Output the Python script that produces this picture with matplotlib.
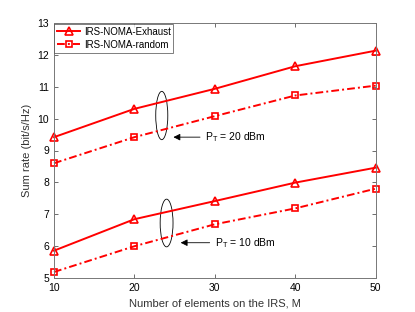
import numpy as np
import matplotlib
matplotlib.use("Agg")
import matplotlib.pyplot as plt
from matplotlib.patches import Ellipse

plt.rcParams['font.family'] = ['Liberation Sans', 'DejaVu Sans']

M = [10, 20, 30, 40, 50]
exh_20 = [9.42, 10.31, 10.94, 11.65, 12.14]
rnd_20 = [8.60, 9.42, 10.08, 10.73, 11.04]
exh_10 = [5.85, 6.84, 7.41, 7.99, 8.46]
rnd_10 = [5.18, 5.99, 6.68, 7.18, 7.80]

fig = plt.figure(figsize=(4.15, 3.12), dpi=100)
ax = fig.add_axes([54/415, 1 - 277.7/312, (375.7 - 54)/415, (277.7 - 23.3)/312])

dd = (4, 1.6, 1, 1.6)
ax.plot(M, exh_20, '-', color='red', lw=1.4, marker='^', ms=6, mfc='none', mew=1.2,
        label='IRS-NOMA-Exhaust', clip_on=False)
ax.plot(M, rnd_20, '-.', color='red', lw=1.4, marker='s', ms=4.5, mfc='none', mew=1.2,
        dashes=dd, label='IRS-NOMA-random', clip_on=False)
ax.plot(M, exh_10, '-', color='red', lw=1.4, marker='^', ms=6, mfc='none', mew=1.2,
        clip_on=False)
ax.plot(M, rnd_10, '-.', color='red', lw=1.4, marker='s', ms=4.5, mfc='none', mew=1.2,
        dashes=dd, clip_on=False)

# ellipses and arrows marking the power groups
ax.add_patch(Ellipse((23.4, 10.1), 1.5, 1.52, fill=False, ec='k', lw=0.6))
ax.add_patch(Ellipse((24.0, 6.72), 1.6, 1.5, fill=False, ec='k', lw=0.6))
ax.annotate('', xy=(24.5, 9.42), xytext=(28.5, 9.42),
            arrowprops=dict(arrowstyle='-|>', color='k', lw=0.6, mutation_scale=10))
ax.annotate('', xy=(25.4, 6.1), xytext=(29.7, 6.1),
            arrowprops=dict(arrowstyle='-|>', color='k', lw=0.6, mutation_scale=10))
ax.text(28.8, 9.42, r'P$_\mathregular{T}$ = 20 dBm', fontsize=7.5, va='center')
ax.text(30.0, 6.1, r'P$_\mathregular{T}$ = 10 dBm', fontsize=7.5, va='center')

ax.set_xlim(10, 50)
ax.set_ylim(5, 13)
ax.set_xticks([10, 20, 30, 40, 50])
ax.set_yticks(np.arange(5, 14, 1))
ax.tick_params(direction='in', top=True, right=True, labelsize=7.5, length=3, width=0.6,
               color='#555555')
for s in ax.spines.values():
    s.set_color('#777777')
    s.set_linewidth(0.7)

ax.set_xlabel('Number of elements on the IRS, M', fontsize=8, color='#333333')
ax.set_ylabel('Sum rate (bit/s/Hz)', fontsize=8, color='#333333')

leg = ax.legend(loc='upper left', fontsize=7, frameon=True, fancybox=False,
                edgecolor='#444444', borderpad=0.3, labelspacing=0.3, handlelength=2.3,
                handletextpad=0.4, borderaxespad=0.05)
leg.get_frame().set_linewidth(0.6)

fig.savefig('out.png', dpi=100)
